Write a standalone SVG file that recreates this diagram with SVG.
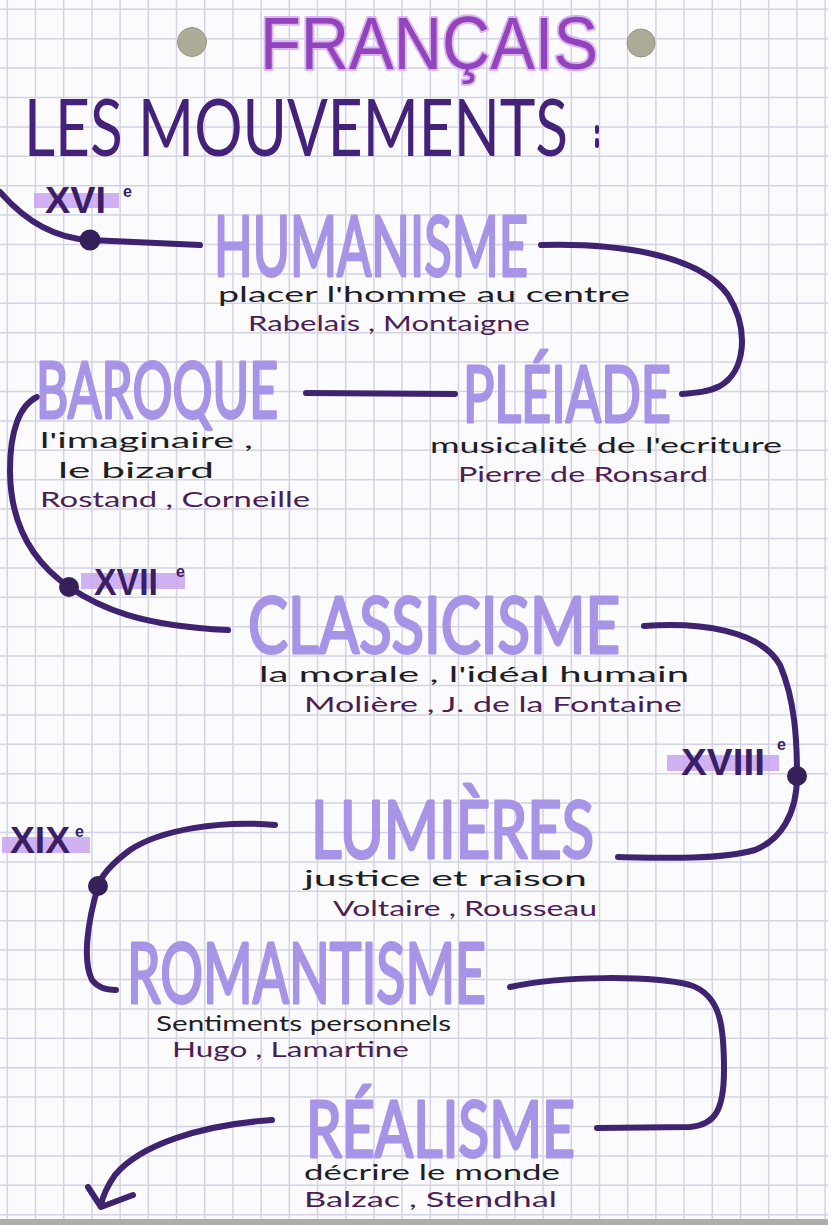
<svg xmlns="http://www.w3.org/2000/svg" width="828" height="1225" viewBox="0 0 828 1225">
<style>
.grid{stroke:#d4d3e4;stroke-width:1.5;fill:none}
.title{font-family:"Liberation Sans",Lato,sans-serif;font-weight:400;fill:#9244bd;stroke:#dcb4f2;stroke-width:4;paint-order:stroke;stroke-linejoin:round}
.head{font-family:Lato,"Liberation Sans",sans-serif;font-weight:400;fill:#44227a}
.mv{font-family:Lato,"Liberation Sans",sans-serif;font-weight:400;fill:#a794e6;stroke:#a794e6;stroke-width:3;stroke-linejoin:round}
.hw{font-family:Lato,"Liberation Sans",sans-serif;font-size:22px;fill:#1e1e24}
.nm{font-family:Lato,"Liberation Sans",sans-serif;font-size:22px;fill:#4b1f55}
.cen{font-family:"Liberation Sans",sans-serif;font-weight:700;fill:#3b1f66}
.sup{font-family:"Liberation Sans",sans-serif;font-weight:700;font-size:16px;fill:#3b1f66}
.hl{fill:#c8a5f0;opacity:0.85}
.con{fill:none;stroke:#3f2370;stroke-width:6;stroke-linecap:round;stroke-linejoin:round}
.dot{fill:#35205a}
.pin{fill:#acab98;stroke:#96957f;stroke-width:1}
</style>
<rect x="0" y="0" width="828" height="1225" fill="#fbfbfd"/>
<path class="grid" d="M7.3 0V1225M35.5 0V1225M63.7 0V1225M91.9 0V1225M120.1 0V1225M148.3 0V1225M176.5 0V1225M204.7 0V1225M232.9 0V1225M261.1 0V1225M289.3 0V1225M317.5 0V1225M345.7 0V1225M373.9 0V1225M402.1 0V1225M430.3 0V1225M458.5 0V1225M486.7 0V1225M514.9 0V1225M543.1 0V1225M571.3 0V1225M599.5 0V1225M627.7 0V1225M655.9 0V1225M684.1 0V1225M712.3 0V1225M740.5 0V1225M768.7 0V1225M796.9 0V1225M825.1 0V1225
M0 9.3H828M0 38.7H828M0 68.1H828M0 97.5H828M0 126.9H828M0 156.3H828M0 185.7H828M0 215.1H828M0 244.5H828M0 273.9H828M0 303.3H828M0 332.7H828M0 362.1H828M0 391.5H828M0 420.9H828M0 450.3H828M0 479.7H828M0 509.1H828M0 538.5H828M0 567.9H828M0 597.3H828M0 626.7H828M0 656.1H828M0 685.5H828M0 714.9H828M0 744.3H828M0 773.7H828M0 803.1H828M0 832.5H828M0 861.9H828M0 891.3H828M0 920.7H828M0 950.1H828M0 979.5H828M0 1008.9H828M0 1038.3H828M0 1067.7H828M0 1097.1H828M0 1126.5H828M0 1155.9H828M0 1185.3H828M0 1214.7H828"/>
<rect x="0" y="1219" width="828" height="6" fill="#aeada9"/>

<g id="header">
<circle class="pin" cx="192" cy="42" r="14.5"/>
<circle class="pin" cx="641" cy="43" r="14"/>
<text class="title" x="260" y="69" font-size="74" textLength="338" lengthAdjust="spacingAndGlyphs">FRANÇAIS</text>
<text class="head" x="24" y="156" font-size="80" textLength="544" lengthAdjust="spacingAndGlyphs">LES MOUVEMENTS</text>
<path d="M597 127V132M597 140V146" stroke="#44227a" stroke-width="4" stroke-linecap="round"/>
</g>

<g id="connectors">
<path class="con" d="M0 192Q40 238 90 240L200 245"/>
<path class="con" d="M541 245C620 243 700 255 728 295C750 330 745 372 720 386C708 392 695 393 682 394"/>
<path class="con" d="M306 393L455 394"/>
<path class="con" d="M37 397C20 405 10 430 10 470C10 520 30 560 69 587C100 608 140 626 228 630"/>
<path class="con" d="M644 626C700 622 760 630 780 665C795 700 797 740 797 776C797 815 780 840 755 850C720 860 660 858 618 857"/>
<path class="con" d="M275 825C220 820 160 830 130 850C110 865 100 878 98 887C88 920 82 960 92 980C98 988 106 990 116 990"/>
<path class="con" d="M510 987C560 976 650 975 690 985C722 995 724 1030 724 1070C724 1110 715 1125 690 1127L597 1128"/>
<path class="con" d="M272 1120C200 1125 140 1145 115 1175C108 1185 103 1195 101 1205"/>
<path class="con" d="M88 1187L101 1207L133 1195"/>
<circle class="dot" cx="90" cy="240" r="10.5"/>
<circle class="dot" cx="69" cy="587" r="10"/>
<circle class="dot" cx="797" cy="776" r="10"/>
<circle class="dot" cx="98" cy="886" r="10"/>
</g>

<g id="centuries">
<rect class="hl" x="34" y="193" width="85" height="15"/>
<text class="cen" x="45" y="213" font-size="36" textLength="61" lengthAdjust="spacingAndGlyphs">XVI</text>
<text class="sup" x="123" y="197">e</text>
<rect class="hl" x="81" y="573" width="104" height="16"/>
<text class="cen" x="94" y="595" font-size="36" textLength="64" lengthAdjust="spacingAndGlyphs">XVII</text>
<text class="sup" x="176" y="577">e</text>
<rect class="hl" x="667" y="755" width="112" height="16"/>
<text class="cen" x="681" y="775" font-size="36" textLength="84" lengthAdjust="spacingAndGlyphs">XVIII</text>
<text class="sup" x="777" y="750">e</text>
<rect class="hl" x="2" y="837" width="88" height="16"/>
<text class="cen" x="10" y="853" font-size="36" textLength="60" lengthAdjust="spacingAndGlyphs">XIX</text>
<text class="sup" x="75" y="837">e</text>
</g>

<g id="humanisme">
<text class="mv" x="214" y="276" font-size="84" textLength="314" lengthAdjust="spacingAndGlyphs">HUMANISME</text>
<text class="hw" x="218" y="302" textLength="412" lengthAdjust="spacingAndGlyphs">placer l'homme au centre</text>
<text class="nm" x="248" y="331" textLength="282" lengthAdjust="spacingAndGlyphs">Rabelais , Montaigne</text>
</g>

<g id="pleiade">
<text class="mv" x="463" y="422" font-size="77" textLength="208" lengthAdjust="spacingAndGlyphs">PLÉIADE</text>
<text class="hw" x="430" y="453" textLength="352" lengthAdjust="spacingAndGlyphs">musicalité de l'ecriture</text>
<text class="nm" x="458" y="482" textLength="250" lengthAdjust="spacingAndGlyphs">Pierre de Ronsard</text>
</g>

<g id="baroque">
<text class="mv" x="36" y="418" font-size="77" textLength="242" lengthAdjust="spacingAndGlyphs">BAROQUE</text>
<text class="hw" x="40" y="448" textLength="213" lengthAdjust="spacingAndGlyphs">l'imaginaire ,</text>
<text class="hw" x="58" y="478" textLength="156" lengthAdjust="spacingAndGlyphs">le bizard</text>
<text class="nm" x="40" y="507" textLength="270" lengthAdjust="spacingAndGlyphs">Rostand , Corneille</text>
</g>

<g id="classicisme">
<text class="mv" x="248" y="653" font-size="78" textLength="372" lengthAdjust="spacingAndGlyphs">CLASSICISME</text>
<text class="hw" x="259" y="682" textLength="430" lengthAdjust="spacingAndGlyphs">la morale , l'idéal humain</text>
<text class="nm" x="304" y="712" textLength="378" lengthAdjust="spacingAndGlyphs">Molière , J. de la Fontaine</text>
</g>

<g id="lumieres">
<text class="mv" x="311" y="858" font-size="80" textLength="283" lengthAdjust="spacingAndGlyphs">LUMIÈRES</text>
<text class="hw" x="304" y="886" textLength="283" lengthAdjust="spacingAndGlyphs">justice et raison</text>
<text class="nm" x="333" y="916" textLength="264" lengthAdjust="spacingAndGlyphs">Voltaire , Rousseau</text>
</g>

<g id="romantisme">
<text class="mv" x="127" y="1003" font-size="84" textLength="359" lengthAdjust="spacingAndGlyphs">ROMANTISME</text>
<text class="hw" x="156" y="1031" textLength="295" lengthAdjust="spacingAndGlyphs">Sentiments personnels</text>
<text class="nm" x="172" y="1057" textLength="237" lengthAdjust="spacingAndGlyphs">Hugo , Lamartine</text>
</g>

<g id="realisme">
<text class="mv" x="306" y="1157" font-size="77" textLength="269" lengthAdjust="spacingAndGlyphs">RÉALISME</text>
<text class="hw" x="304" y="1180" textLength="256" lengthAdjust="spacingAndGlyphs">décrire le monde</text>
<text class="nm" x="304" y="1207" textLength="253" lengthAdjust="spacingAndGlyphs">Balzac , Stendhal</text>
</g>
</svg>
